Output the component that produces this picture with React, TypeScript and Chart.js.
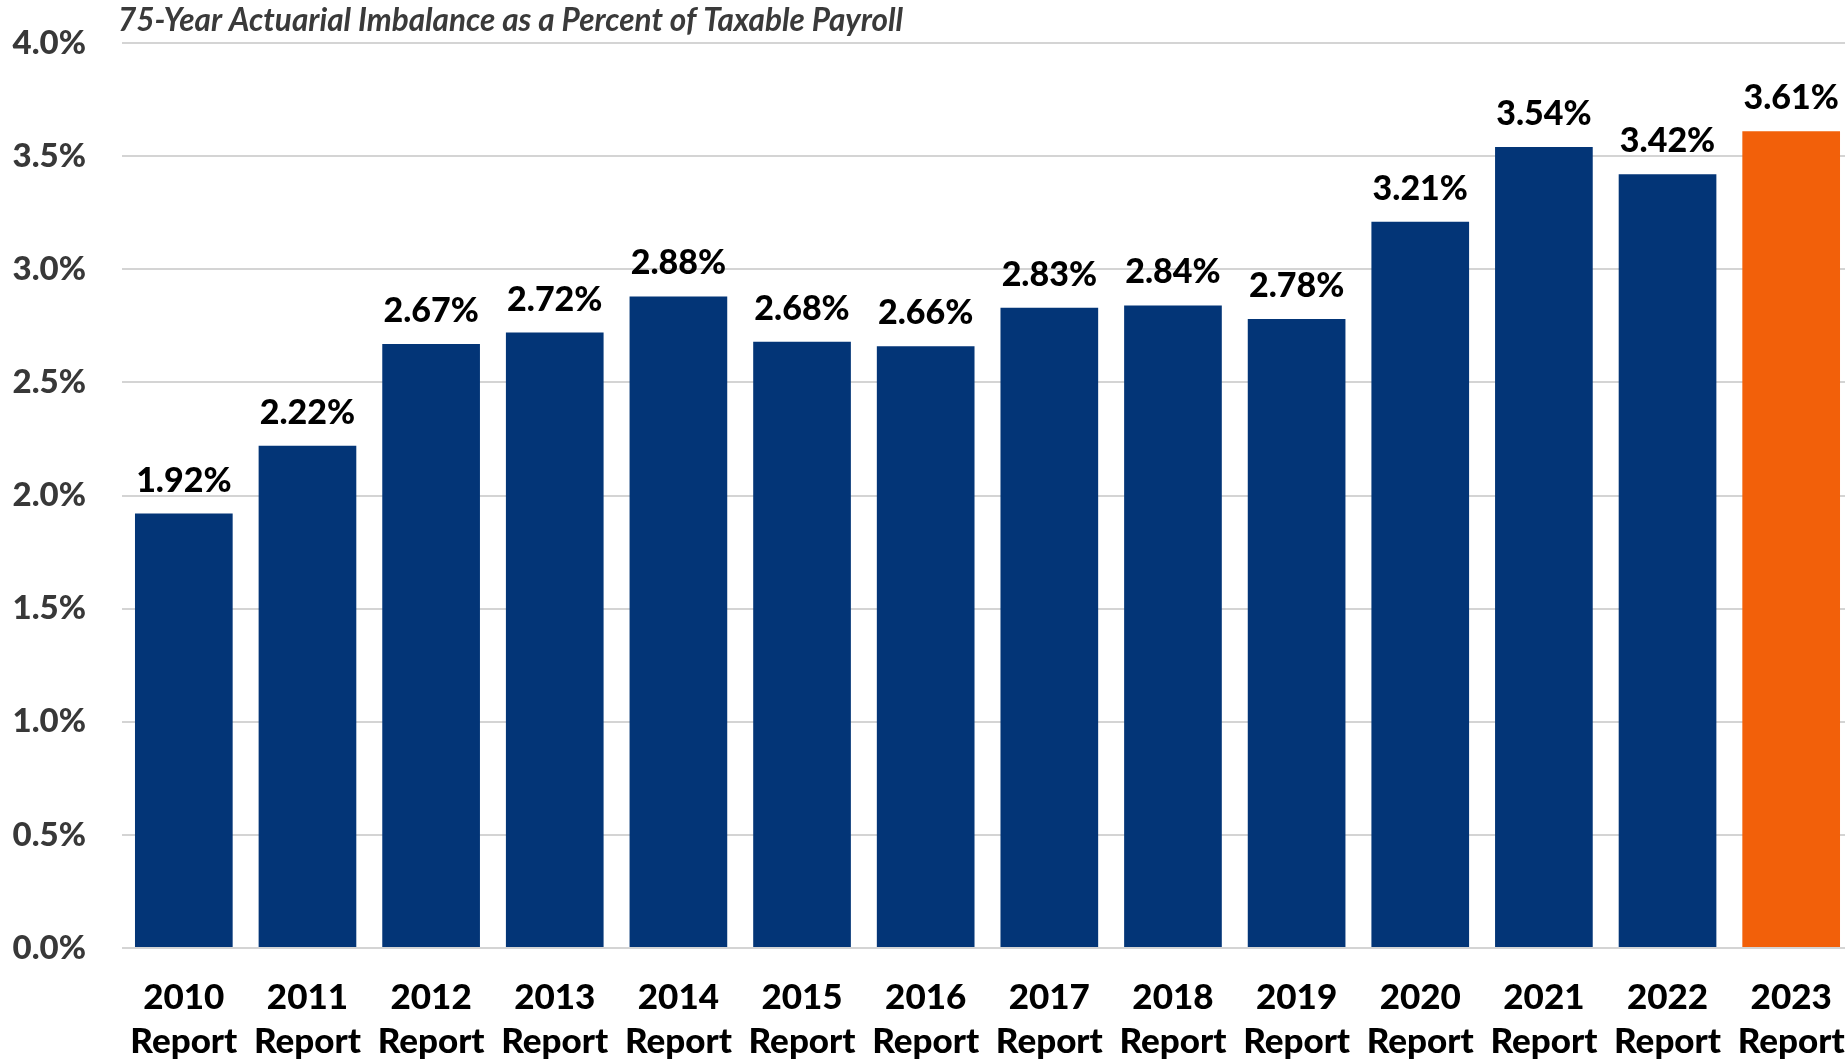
import React, { useEffect, useRef } from "react";
import { Chart, registerables } from "chart.js";

Chart.register(...registerables);

const years = ["2010", "2011", "2012", "2013", "2014", "2015", "2016", "2017", "2018", "2019", "2020", "2021", "2022", "2023"];
const imbalance = [1.92, 2.22, 2.67, 2.72, 2.88, 2.68, 2.66, 2.83, 2.84, 2.78, 3.21, 3.54, 3.42, 3.61];
const yTicks = [0, 0.5, 1.0, 1.5, 2.0, 2.5, 3.0, 3.5, 4.0];
const titleText = "75-Year Actuarial Imbalance as a Percent of Taxable Payroll";

const NAVY = "#033577";
const ORANGE = "#F2600A";
const FONT = "Lato, 'Noto Sans', sans-serif";

const W = 1853;
const H = 1061;

export default function App() {
  const ref = useRef<HTMLCanvasElement | null>(null);

  useEffect(() => {
    document.body.style.margin = "0";
    document.body.style.overflow = "hidden";
    const canvas = ref.current;
    if (!canvas) return;

    const labelsPlugin = {
      id: "barLabels",
      afterDatasetsDraw(chart: any) {
        const ctx = chart.ctx;
        const meta = chart.getDatasetMeta(0);
        ctx.save();
        ctx.font = `900 34px ${FONT}`;
        ctx.fillStyle = "#000000";
        ctx.textAlign = "center";
        ctx.textBaseline = "alphabetic";
        meta.data.forEach((el: any, i: number) => {
          ctx.fillText(imbalance[i].toFixed(2) + "%", el.x, el.y - 22);
        });
        ctx.restore();
      },
    };

    const titlePlugin = {
      id: "cornerTitle",
      afterDraw(chart: any) {
        const ctx = chart.ctx;
        ctx.save();
        ctx.font = `bold italic 31.5px ${FONT}`;
        ctx.fillStyle = "#3a3a3a";
        ctx.textAlign = "left";
        ctx.textBaseline = "middle";
        ctx.fillText(titleText, 118, 21);
        ctx.restore();
      },
    };

    const chart = new Chart(canvas, {
      type: "bar",
      data: {
        labels: years.map((y) => [y, "Report"]),
        datasets: [
          {
            data: imbalance,
            backgroundColor: imbalance.map((_, i) => (i === imbalance.length - 1 ? ORANGE : NAVY)),
            barPercentage: 0.79,
            categoryPercentage: 1.0,
          },
        ],
      },
      options: {
        responsive: false,
        animation: false,
        devicePixelRatio: 1,
        layout: { padding: { top: 43, right: 0, left: 0, bottom: 0 } },
        plugins: {
          legend: { display: false },
          tooltip: { enabled: false },
          title: { display: false },
        },
        scales: {
          x: {
            grid: { display: false, drawTicks: false },
            border: { display: false },
            ticks: {
              font: { family: FONT, size: 35, weight: "900", lineHeight: 1.25 },
              color: "#000000",
              padding: 28,
              maxRotation: 0,
              autoSkip: false,
            },
            afterFit: (s: any) => {
              s.height = H - 948;
              s.paddingLeft = 0;
              s.paddingRight = 0;
            },
          },
          y: {
            min: 0,
            max: 4,
            afterBuildTicks: (s: any) => {
              s.ticks = yTicks.map((v) => ({ value: v }));
            },
            grid: { color: "#D4D4D4", lineWidth: 2, drawTicks: false },
            border: { display: false },
            ticks: {
              font: { family: FONT, size: 33, weight: "900" },
              color: "#383838",
              padding: 36,
              callback: (v: any) => Number(v).toFixed(1) + "%",
            },
            afterFit: (s: any) => {
              s.width = 122;
              s.paddingTop = 0;
              s.paddingBottom = 0;
            },
          },
        },
      },
      plugins: [labelsPlugin, titlePlugin],
    });

    return () => chart.destroy();
  }, []);

  return (
    <div style={{ width: W, height: H, background: "#ffffff" }}>
      <canvas ref={ref} width={W} height={H} style={{ display: "block" }} />
    </div>
  );
}
